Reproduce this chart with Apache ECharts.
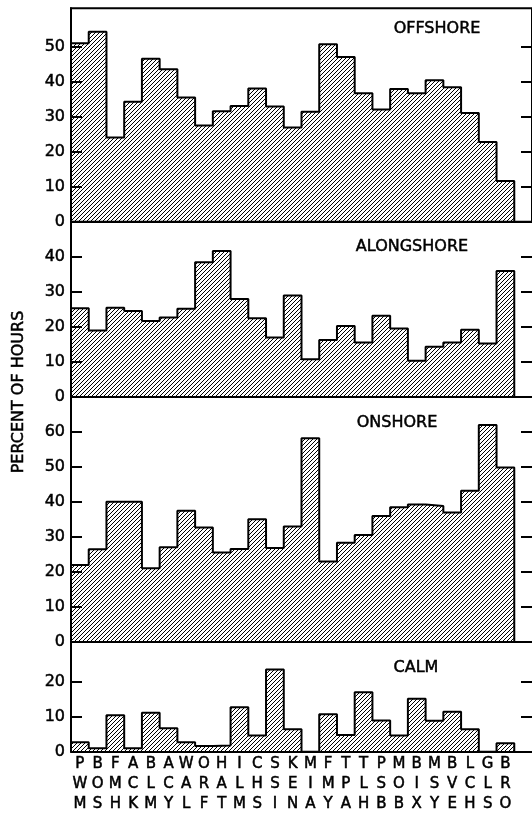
<!DOCTYPE html>
<html>
<head>
<meta charset="utf-8">
<script src="https://cdn.jsdelivr.net/npm/echarts@6/dist/echarts.min.js"></script>
<style>
  html, body { margin: 0; padding: 0; background: #fff; }
  #chart { width: 532px; height: 814px; }
</style>
</head>
<body>
<div id="chart"></div>
<script>
// station codes, read top to bottom under each bar
var stations = ['PWM', 'BOS', 'FMH', 'ACK', 'BLM', 'ACY', 'WAL', 'ORF', 'HAT', 'ILM', 'CHS', 'SSI', 'KEN',
  'MIA', 'FMY', 'TPA', 'TLH', 'PSB', 'MOB', 'BIX', 'MSY', 'BVE', 'LCH', 'GLS', 'BRO'];

var offshore = [51, 54.3, 24.1, 34.3, 46.6, 43.6, 35.5, 27.5, 31.6, 33.1, 38.1, 32.9, 26.9,
  31.4, 50.7, 47.1, 36.7, 32.1, 37.9, 36.7, 40.4, 38.4, 31.1, 22.8, 11.6];
var alongshore = [25.3, 18.9, 25.4, 24.5, 21.6, 22.6, 25.1, 38.4, 41.6, 27.9, 22.4, 16.9, 28.9,
  10.7, 16.2, 20.2, 15.5, 23.1, 19.5, 10.3, 14.3, 15.5, 19.1, 15.2, 35.9];
var onshore = [21.9, 26.4, 40, 40, 21, 27, 37.4, 32.6, 25.5, 26.5, 35, 26.8, 32.9,
  58.1, 22.9, 28.3, 30.5, 35.9, 38.4, 39.2, 38.8, 36.9, 43.1, 61.9, 49.8];
var calm = [2.7, 1, 10.4, 1, 11.1, 6.7, 2.7, 1.6, 1.8, 12.7, 4.6, 23.5, 6.4,
  0, 10.7, 4.8, 17, 8.9, 4.6, 15.1, 8.8, 11.4, 6.4, 0, 2.4];

var panelNames = ['OFFSHORE', 'ALONGSHORE', 'ONSHORE', 'CALM'];
var panelMax = [61, 50, 70, 31.4];
var panelTicks = [
  [0, 10, 20, 30, 40, 50],
  [0, 10, 20, 30, 40],
  [0, 10, 20, 30, 40, 50, 60],
  [0, 10, 20]
];
var labelPos = [0.5, 1.5, 2.5, 3.5, 4.5, 5.5, 6.5, 7.5, 8.5, 9.5, 10.5, 11.5, 12.5,
  13.5, 14.5, 15.5, 16.5, 17.5, 18.5, 19.5, 20.5, 21.5, 22.5, 23.5, 24.5];

var FONT = 'DejaVu Sans';

// hatch pattern ////
var hatch = document.createElement('canvas');
hatch.width = 4;
hatch.height = 4;
var hc = hatch.getContext('2d');
hc.strokeStyle = '#000';
hc.lineWidth = 1;
for (var k = -1; k <= 1; k++) {
  hc.beginPath();
  hc.moveTo(k * 4, 4);
  hc.lineTo(k * 4 + 4, 0);
  hc.stroke();
}

function stepData(vals) {
  var pts = [[0, 0]];
  for (var i = 0; i < vals.length; i++) {
    pts.push([i, vals[i]]);
  }
  pts.push([vals.length, vals[vals.length - 1]]);
  pts.push([vals.length, 0]);
  return pts;
}

function label(text, x, y, rot) {
  return {
    type: 'text', x: x, y: y, rotation: rot || 0,
    style: {
      text: text, font: '16px "DejaVu Sans"', fill: '#000',
      stroke: '#000', lineWidth: 0.5,
      align: 'center', verticalAlign: 'middle'
    }
  };
}

var tops = [8.3, 221.7, 396.7, 641.7];
var heights = [213.4, 175, 245, 110];
var series = [offshore, alongshore, onshore, calm];

var grids = [], xAxes = [], yAxes = [], seriesList = [];
for (var p = 0; p < 4; p++) {
  grids.push({
    left: 71, width: 464, top: tops[p], height: heights[p],
    show: p === 0, borderColor: '#000', borderWidth: 2
  });
  xAxes.push({
    type: 'value', gridIndex: p, min: 0, max: 26,
    splitLine: { show: false },
    axisLine: { show: true, lineStyle: { color: '#000', width: 2 } },
    axisTick: { show: false },
    axisLabel: p === 3 ? {
      show: true,
      customValues: labelPos,
      formatter: function (v) {
        return stations[Math.floor(v)].split('').join('\n');
      },
      color: '#000', fontFamily: FONT, fontSize: 15, lineHeight: 20, margin: 2,
      textBorderColor: '#000', textBorderWidth: 0.5
    } : { show: false }
  });
  yAxes.push({
    type: 'value', gridIndex: p, min: 0, max: panelMax[p], position: 'left',
    splitLine: { show: false },
    axisLine: { show: true, lineStyle: { color: '#000', width: 2 } },
    axisTick: { show: true, inside: true, length: 11, customValues: panelTicks[p], lineStyle: { color: '#000', width: 2 } },
    axisLabel: {
      customValues: panelTicks[p], color: '#000', fontFamily: FONT, fontSize: 16, margin: 6,
      textBorderColor: '#000', textBorderWidth: 0.5
    }
  });
  yAxes.push({
    type: 'value', gridIndex: p, min: 0, max: panelMax[p], position: 'right',
    splitLine: { show: false },
    axisLine: { show: false },
    axisTick: { show: true, inside: true, length: 11, customValues: panelTicks[p], lineStyle: { color: '#000', width: 2 } },
    axisLabel: { show: false }
  });
  seriesList.push({
    name: panelNames[p],
    type: 'line',
    step: 'end',
    xAxisIndex: p,
    yAxisIndex: p * 2,
    symbol: 'none',
    silent: true,
    lineStyle: { color: '#000', width: 2 },
    areaStyle: { color: { image: hatch, repeat: 'repeat' }, opacity: 1 },
    data: stepData(series[p])
  });
}

var option = {
  backgroundColor: '#fff',
  animation: false,
  grid: grids,
  xAxis: xAxes,
  yAxis: yAxes,
  series: seriesList,
  graphic: [
    label('OFFSHORE', 437, 29),
    label('ALONGSHORE', 412, 247),
    label('ONSHORE', 397, 423),
    label('CALM', 416, 668),
    label('PERCENT OF HOURS', 19, 392, Math.PI / 2)
  ]
};

var chart = echarts.init(document.getElementById('chart'));
chart.setOption(option);
</script>
</body>
</html>
